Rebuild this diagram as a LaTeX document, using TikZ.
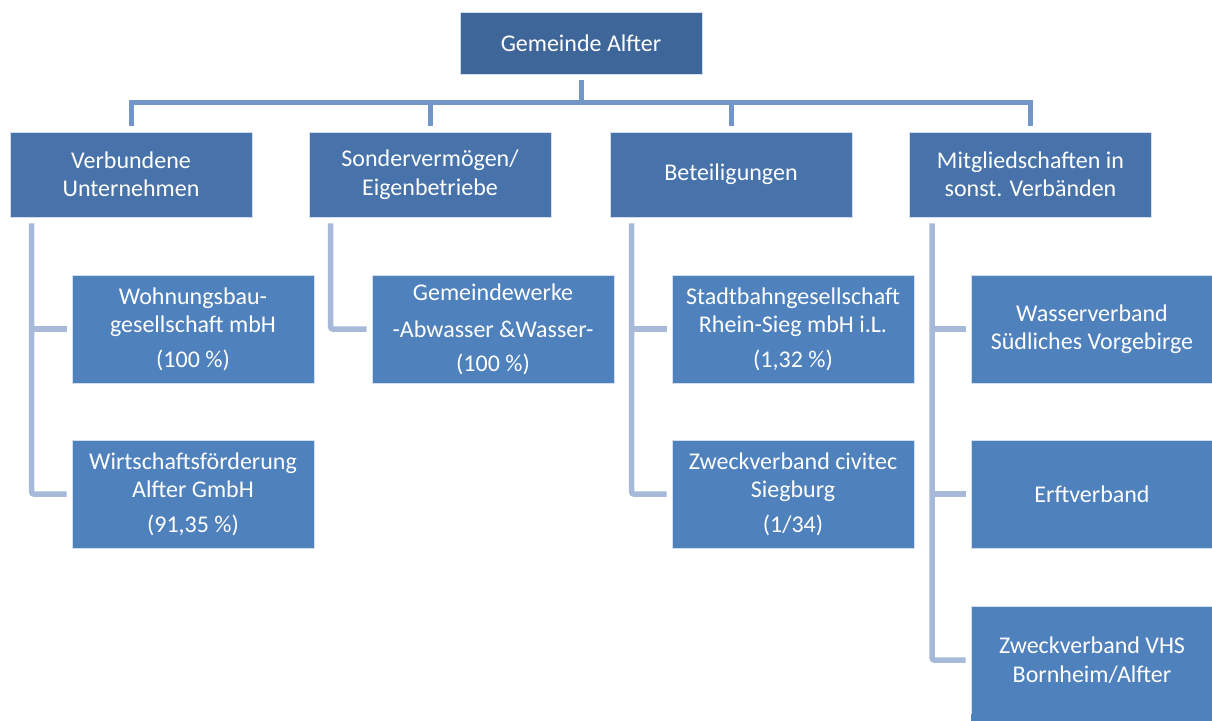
\documentclass[tikz,border=0pt]{standalone}
\usepackage{fontspec}
\setmainfont{Carlito}
\definecolor{topblue}{HTML}{3F6698}
\definecolor{midblue}{HTML}{4773AA}
\definecolor{lowblue}{HTML}{4F81BD}
\definecolor{trunkcol}{HTML}{7396C9}
\definecolor{branchcol}{HTML}{A6B9D9}
\begin{document}
\begin{tikzpicture}[x=1pt,y=-1pt,
  font=\fontsize{24}{28.5}\selectfont,
  box/.style={text=white, align=center, minimum width=242pt, inner sep=0pt, draw=white!75!lowblue, line width=0.6pt},
  topbox/.style={box, fill=topblue, minimum height=62pt},
  midbox/.style={box, fill=midblue, minimum height=85pt},
  lowbox/.style={box, fill=lowblue, minimum height=108pt},
  trunk/.style={draw=trunkcol, line width=5pt},
  branch/.style={draw=branchcol, line width=5.5pt, rounded corners=2pt}]
\useasboundingbox (0,0) rectangle (1212,720);

% root and level 2
\node[topbox] (root) at (581,43) {Gemeinde Alfter};
\node[midbox] (l1) at (131,174.5) {Verbundene\\Unternehmen};
\node[midbox] (l2) at (430,174.5) {Sondervermögen/\\Eigenbetriebe};
\node[midbox] (l3) at (731,174.5) {Beteiligungen};
\node[midbox] (l4) at (1030.5,174.5) {Mitgliedschaften in\\sonst. Verbänden};

% level 3
\node[lowbox] (c1a) at (193,329) {Wohnungsbau-\\gesellschaft mbH\\[6pt](100 \%)};
\node[lowbox] (c1b) at (193,494) {Wirtschaftsförderung\\Alfter GmbH\\[6pt](91,35 \%)};
\node[lowbox] (c2a) at (493,329) {Gemeindewerke\\[9pt]-Abwasser \&Wasser-\\[5pt](100 \%)};
\node[lowbox] (c3a) at (793,329) {Stadtbahngesellschaft\\Rhein-Sieg mbH i.L.\\[6pt](1,32 \%)};
\node[lowbox] (c3b) at (793,494) {Zweckverband civitec\\Siegburg\\[6pt](1/34)};
\node[lowbox] (c4a) at (1092,329) {Wasserverband\\Südliches Vorgebirge};
\node[lowbox] (c4b) at (1092,494) {Erftverband};
\node[lowbox] (c4c) at (1092,660) {Zweckverband VHS\\Bornheim/Alfter};
\fill[lowblue] ([yshift=0.3pt]c4c.south west) rectangle ([yshift=-14pt]c4c.south east);

% trunk connectors
\coordinate (hub) at (581,102.5);
\draw[trunk] ([yshift=-6pt]root.south) -- (root.south |- hub);
\draw[trunk, line cap=rect] (l1.north |- hub) -- (l4.north |- hub);
\foreach \n in {l1,l2,l3,l4}
  \draw[trunk] (\n.north |- hub) -- ([yshift=6pt]\n.north);

% branch connectors
\draw[branch] ([xshift=22pt,yshift=-6pt]l1.south west) |- ([xshift=-5pt]c1b.west);
\draw[branch] ([xshift=22pt]l1.south west |- c1a.west) -- ([xshift=-5pt]c1a.west);
\draw[branch] ([xshift=22pt,yshift=-6pt]l2.south west) |- ([xshift=-5pt]c2a.west);
\draw[branch] ([xshift=22pt,yshift=-6pt]l3.south west) |- ([xshift=-5pt]c3b.west);
\draw[branch] ([xshift=22pt]l3.south west |- c3a.west) -- ([xshift=-5pt]c3a.west);
\draw[branch] ([xshift=23pt,yshift=-6pt]l4.south west) |- ([xshift=-5pt]c4c.west);
\draw[branch] ([xshift=23pt]l4.south west |- c4a.west) -- ([xshift=-5pt]c4a.west);
\draw[branch] ([xshift=23pt]l4.south west |- c4b.west) -- ([xshift=-5pt]c4b.west);
\end{tikzpicture}
\end{document}
